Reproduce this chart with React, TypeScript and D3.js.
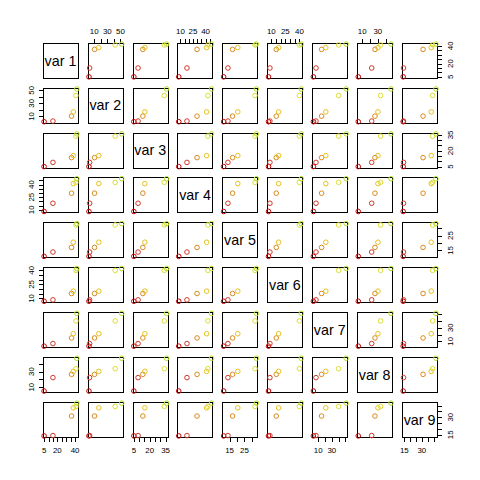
import React from "react";
import * as d3 from "d3";

// ---- data (6 observations, 9 variables) ----
const varNames = ["var 1", "var 2", "var 3", "var 4", "var 5", "var 6", "var 7", "var 8", "var 9"];
const var1 = [5, 15, 36, 38, 41, 42];
const var2 = [2, 3, 10.5, 17, 42, 52];
const var3 = [5, 9, 13.5, 15.4, 33.8, 36];
const var4 = [8, 17.8, 29.8, 41.2, 42.7, 47];
const var5 = [11, 13.9, 17, 20.5, 32.1, 33];
const var6 = [7, 8.5, 15.3, 17.8, 40, 42];
const var7 = [3, 6.8, 15, 21.2, 40, 51];
const var8 = [5, 22.2, 26.4, 30.2, 33.6, 47];
const var9 = [14, 14.3, 31, 38, 39.2, 42];
const pointColors = ["#c00000", "#d03a2a", "#d98a1e", "#e6c21e", "#dede30", "#b4e02a"];

// tick positions and the labels that are printed
const ticks1 = [5, 10, 15, 20, 25, 30, 35, 40];
const labels1 = [5, 20, 40];
const ticks2 = [10, 20, 30, 40, 50];
const labels2 = [10, 30, 50];
const ticks3 = [5, 10, 15, 20, 25, 30, 35];
const labels3 = [5, 20, 35];
const ticks4 = [10, 15, 20, 25, 30, 35, 40, 45];
const labels4 = [10, 25, 40];
const ticks5 = [15, 20, 25, 30];
const labels5 = [15, 25];
const ticks6 = [10, 15, 20, 25, 30, 35, 40];
const labels6 = [10, 25, 40];
const ticks7 = [10, 20, 30, 40, 50];
const labels7 = [10, 30];
const ticks8 = [10, 20, 30, 40];
const labels8 = [10, 30];
const ticks9 = [15, 20, 25, 30, 35, 40];
const labels9 = [15, 30];

const vars = [var1, var2, var3, var4, var5, var6, var7, var8, var9];
const tickSets = [ticks1, ticks2, ticks3, ticks4, ticks5, ticks6, ticks7, ticks8, ticks9];
const labelSets = [labels1, labels2, labels3, labels4, labels5, labels6, labels7, labels8, labels9];

const SIZE = 480;
const OMA = 38.016;
const N = 9;
const CELL = (SIZE - 2 * OMA) / N;
const MAR = 4.752;
const BOX = CELL - 2 * MAR;
const TCL = 4.75;
const FONT = "'Liberation Sans', Arial, Helvetica, sans-serif";
const AXIS_FS = 7.92;

function domainOf(v: number[]): [number, number] {
  const [lo, hi] = d3.extent(v) as [number, number];
  const r = hi - lo;
  return [lo - 0.04 * r, hi + 0.04 * r];
}

export default function App() {
  const boxes = d3.range(N).map((i) => OMA + i * CELL + MAR);
  const xScales = vars.map((v, j) => d3.scaleLinear().domain(domainOf(v)).range([boxes[j], boxes[j] + BOX]));
  const yScales = vars.map((v, i) => d3.scaleLinear().domain(domainOf(v)).range([boxes[i] + BOX, boxes[i]]));

  const panels: React.ReactNode[] = [];
  for (let i = 0; i < N; i++) {
    for (let j = 0; j < N; j++) {
      const x0 = boxes[j];
      const y0 = boxes[i];
      const key = `${i}-${j}`;
      panels.push(
        <rect key={"b" + key} x={Math.round(x0) + 0.5} y={Math.round(y0) + 0.5} width={Math.round(BOX)} height={Math.round(BOX)}
          fill="none" stroke="#000" strokeWidth={1} shapeRendering="crispEdges" />
      );
      if (i === j) {
        panels.push(
          <text key={"t" + key} x={x0 + BOX / 2} y={y0 + BOX / 2} dy="0.36em" textAnchor="middle"
            fontFamily={FONT} fontSize={14.3} fill="#000">{varNames[i]}</text>
        );
      } else {
        const xs = xScales[j];
        const ys = yScales[i];
        vars[j].forEach((xv, k) => {
          panels.push(
            <circle key={"p" + key + "-" + k} cx={xs(xv)} cy={ys(vars[i][k])} r={2.3}
              fill="none" stroke={pointColors[k]} strokeWidth={1} />
          );
        });
      }
    }
  }

  const axes: React.ReactNode[] = [];
  // top (even columns, 1-based) and bottom (odd columns)
  for (let j = 0; j < N; j++) {
    const xs = xScales[j];
    const t = tickSets[j];
    const top = j % 2 === 1;
    const yEdge = top ? Math.round(boxes[0]) + 0.5 : Math.round(boxes[N - 1]) + Math.round(BOX) + 0.5;
    const dir = top ? -1 : 1;
    axes.push(<line key={"ax" + j} x1={Math.round(xs(t[0])) + 0.5} x2={Math.round(xs(t[t.length - 1])) + 0.5}
      y1={yEdge} y2={yEdge} stroke="#000" shapeRendering="crispEdges" />);
    t.forEach((v) => {
      const x = Math.round(xs(v)) + 0.5;
      axes.push(<line key={"axt" + j + "-" + v} x1={x} x2={x} y1={yEdge} y2={yEdge + dir * TCL} stroke="#000" shapeRendering="crispEdges" />);
    });
    labelSets[j].forEach((v) => {
      axes.push(
        <text key={"axl" + j + "-" + v} x={xs(v)} y={top ? yEdge - 9.8 : yEdge + 15.3} textAnchor="middle"
          fontFamily={FONT} fontSize={AXIS_FS} fill="#000">{v}</text>
      );
    });
  }
  // left (even rows, 1-based) and right (odd rows)
  for (let i = 0; i < N; i++) {
    const ys = yScales[i];
    const t = tickSets[i];
    const left = i % 2 === 1;
    const xEdge = left ? Math.round(boxes[0]) + 0.5 : Math.round(boxes[N - 1]) + Math.round(BOX) + 0.5;
    const dir = left ? -1 : 1;
    axes.push(<line key={"ay" + i} y1={Math.round(ys(t[0])) + 0.5} y2={Math.round(ys(t[t.length - 1])) + 0.5}
      x1={xEdge} x2={xEdge} stroke="#000" shapeRendering="crispEdges" />);
    t.forEach((v) => {
      const y = Math.round(ys(v)) + 0.5;
      axes.push(<line key={"ayt" + i + "-" + v} y1={y} y2={y} x1={xEdge} x2={xEdge + dir * TCL} stroke="#000" shapeRendering="crispEdges" />);
    });
    labelSets[i].forEach((v) => {
      const bx = left ? xEdge - 9.8 : xEdge + 15.5;
      axes.push(
        <text key={"ayl" + i + "-" + v} transform={`translate(${bx},${ys(v)}) rotate(-90)`} textAnchor="middle"
          fontFamily={FONT} fontSize={AXIS_FS} fill="#000">{v}</text>
      );
    });
  }

  return (
    <svg width={SIZE} height={SIZE} viewBox={`0 0 ${SIZE} ${SIZE}`}
      style={{ position: "absolute", left: 0, top: 0, background: "#fff" }}>
      <rect x={0} y={0} width={SIZE} height={SIZE} fill="#fff" />
      <g>{axes}</g>
      {panels}
    </svg>
  );
}
